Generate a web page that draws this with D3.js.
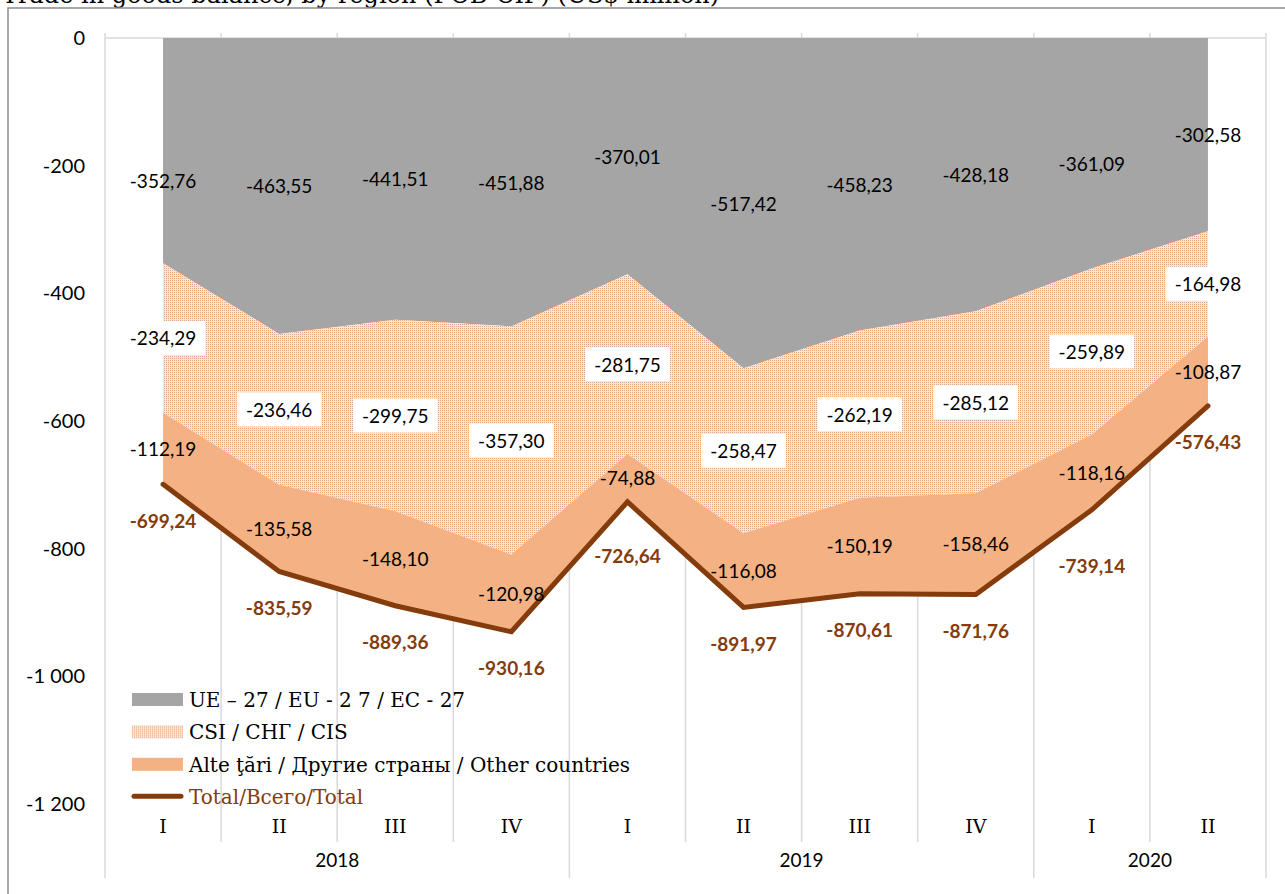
<!DOCTYPE html>
<html>
<head>
<meta charset="utf-8">
<script src="https://cdn.jsdelivr.net/npm/d3@7"></script>
<style>
  body { margin: 0; background: #fff; }
  svg { display: block; }
</style>
</head>
<body>
<div id="chart"></div>
<script>
// quarters and years
const quarters = ["I", "II", "III", "IV", "I", "II", "III", "IV", "I", "II"];
const years = ["2018", "2019", "2020"];
const yearCounts = [4, 4, 2];

// series (US$ million)
const eu = [-352.76, -463.55, -441.51, -451.88, -370.01, -517.42, -458.23, -428.18, -361.09, -302.58];
const cis = [-234.29, -236.46, -299.75, -357.30, -281.75, -258.47, -262.19, -285.12, -259.89, -164.98];
const other = [-112.19, -135.58, -148.10, -120.98, -74.88, -116.08, -150.19, -158.46, -118.16, -108.87];
const total = [-699.24, -835.59, -889.36, -930.16, -726.64, -891.97, -870.61, -871.76, -739.14, -576.43];

const yTicks = [0, -200, -400, -600, -800, -1000, -1200];

const seriesNames = ["UE – 27 / EU - 2 7 / EC - 27", "CSI / СНГ / CIS", "Alte ţări / Другие страны / Other countries", "Total/Всего/Total"];

const width = 1285, height = 894;
const plot = { left: 105, right: 1266, top: 38, bottom: 804 };

const locale = d3.formatLocale({ decimal: ",", thousands: " ", grouping: [3], currency: ["", ""], minus: "-" });
const fmt2 = locale.format(".2f");
const fmtAxis = locale.format(",.0f");

const rows = quarters.map((q, i) => ({ i: i, eu: eu[i], cis: cis[i], other: other[i] }));
const stack = d3.stack().keys(["eu", "cis", "other"]).offset(d3.stackOffsetDiverging);
const series = stack(rows);

const x = d3.scaleBand().domain(d3.range(quarters.length)).range([plot.left, plot.right]).padding(0);
const cx = i => x(i) + x.bandwidth() / 2;
const y = d3.scaleLinear().domain([-1200, 0]).range([plot.bottom, plot.top]);

const serif = "'DejaVu Serif', serif";
const sans = "Lato, sans-serif";

const svg = d3.select("#chart").append("svg")
  .attr("width", width).attr("height", height);

// dotted fill for CIS
const defs = svg.append("defs");
const pat = defs.append("pattern").attr("id", "dots")
  .attr("patternUnits", "userSpaceOnUse").attr("width", 2).attr("height", 2);
pat.append("rect").attr("width", 2).attr("height", 2).attr("fill", "#fbe6d8");
pat.append("rect").attr("width", 1).attr("height", 1).attr("fill", "#e8a47c");

const fills = { eu: "#a5a5a5", cis: "url(#dots)", other: "#f4b183" };
const lineColor = "#843c0c";
const gridColor = "#d9d9d9";

// title (cut off at the top like the source)
svg.append("text")
  .attr("x", 2).attr("y", 3)
  .style("font-family", serif)
  .style("font-size", "24px")
  .attr("fill", "#000")
  .text("Trade in goods balance, by region (FOB-CIF) (US$ million)");

// outer border
svg.append("path")
  .attr("d", `M8,${height + 2}V8H${width + 2}`)
  .attr("fill", "none").attr("stroke", "#8a8a8a").attr("stroke-width", 1.5);

// vertical gridlines at category boundaries
const bounds = d3.range(quarters.length + 1).map(i => plot.left + i * x.bandwidth());
const yearStarts = [0, 4, 8, 10];
svg.append("g").selectAll("line")
  .data(bounds)
  .join("line")
  .attr("x1", d => d).attr("x2", d => d)
  .attr("y1", plot.top - 5)
  .attr("y2", (d, i) => yearStarts.includes(i) ? 878 : 842)
  .attr("stroke", gridColor).attr("stroke-width", 1.5);

// category axis line at 0
svg.append("line")
  .attr("x1", plot.left).attr("x2", plot.right)
  .attr("y1", y(0)).attr("y2", y(0))
  .attr("stroke", gridColor).attr("stroke-width", 1.5);

// areas
const area = d3.area()
  .x(d => cx(d.data.i))
  .y0(d => y(d[0]))
  .y1(d => y(d[1]));

svg.append("g").selectAll("path")
  .data(series)
  .join("path")
  .attr("d", area)
  .attr("fill", d => fills[d.key]);

// total line
const line = d3.line().x((d, i) => cx(i)).y(d => y(d));
svg.append("path")
  .datum(total)
  .attr("d", line)
  .attr("fill", "none")
  .attr("stroke", lineColor)
  .attr("stroke-width", 5)
  .attr("stroke-linecap", "round");

// y axis labels
const yAxis = d3.axisLeft(y).tickValues(yTicks).tickSize(0).tickPadding(0)
  .tickFormat(d => d === 0 ? "0" : fmtAxis(d));
const yg = svg.append("g").attr("transform", "translate(85,0)").call(yAxis);
yg.select(".domain").remove();
yg.selectAll("text")
  .style("font-family", sans)
  .style("font-size", "20px")
  .attr("fill", "#000");

// quarter and year labels
svg.append("g").selectAll("text")
  .data(quarters)
  .join("text")
  .attr("x", (d, i) => cx(i)).attr("y", 833)
  .attr("text-anchor", "middle")
  .style("font-family", serif)
  .style("font-size", "19px")
  .text(d => d);

const yearPos = years.map((yr, k) => {
  const s = d3.sum(yearCounts.slice(0, k));
  return { yr, mid: plot.left + (s + yearCounts[k] / 2) * x.bandwidth() };
});
svg.append("g").selectAll("text")
  .data(yearPos)
  .join("text")
  .attr("x", d => d.mid).attr("y", 867)
  .attr("text-anchor", "middle")
  .style("font-family", sans)
  .style("font-size", "19px")
  .text(d => d.yr);

// data labels
const euShift = { 0: 30, 8: 10 };
const totalShift = { 4: 18, 8: 20 };

const labG = svg.append("g");
series.forEach(s => {
  s.forEach((d, i) => {
    const ym = y((d[0] + d[1]) / 2) + (s.key === "eu" ? (euShift[i] || 0) : 0);
    const val = rows[i][s.key];
    const t = labG.append("text").attr("x", cx(i)).attr("y", ym)
      .attr("text-anchor", "middle").attr("dominant-baseline", "central")
      .style("font-family", sans).style("font-size", "19px")
      .text(fmt2(val));
    if (s.key === "cis") {
      const bb = t.node().getBBox();
      labG.insert("rect", () => t.node())
        .attr("x", bb.x - 9).attr("y", ym - 17)
        .attr("width", bb.width + 18).attr("height", 34)
        .attr("fill", "#fff");
    }
  });
});

labG.selectAll(".tot")
  .data(total)
  .join("text")
  .attr("class", "tot")
  .attr("x", (d, i) => cx(i))
  .attr("y", (d, i) => y(d) + 36 + (totalShift[i] || 0))
  .attr("text-anchor", "middle").attr("dominant-baseline", "central")
  .style("font-family", sans).style("font-size", "19px")
  .style("font-weight", "bold")
  .attr("fill", lineColor)
  .text(d => fmt2(d));

// legend
const legend = svg.append("g").attr("transform", "translate(132,699)");
const items = legend.selectAll("g")
  .data(seriesNames)
  .join("g")
  .attr("transform", (d, i) => `translate(0,${i * 32.4})`);

items.each(function (d, i) {
  const g = d3.select(this);
  if (i < 3) {
    g.append("rect").attr("x", 0).attr("y", -6).attr("width", 51).attr("height", 13)
      .attr("fill", fills[["eu", "cis", "other"][i]]);
  } else {
    g.append("line").attr("x1", 2).attr("x2", 49).attr("y1", 0).attr("y2", 0)
      .attr("stroke", lineColor).attr("stroke-width", 5).attr("stroke-linecap", "round");
  }
  g.append("text").attr("x", 57).attr("y", 1)
    .attr("dominant-baseline", "central")
    .style("font-family", serif)
    .style("font-size", "20px")
    .attr("fill", i === 3 ? lineColor : "#000")
    .text(d);
});
</script>
</body>
</html>
